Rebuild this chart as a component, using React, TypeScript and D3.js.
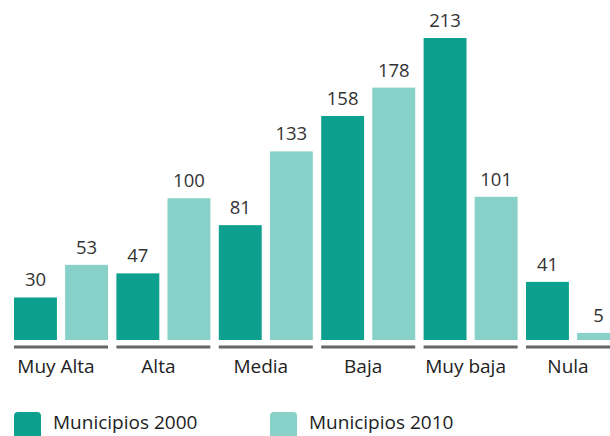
import React from "react";
import * as d3 from "d3";

const categories = ["Muy Alta", "Alta", "Media", "Baja", "Muy baja", "Nula"];
const seriesNames = ["Municipios 2000", "Municipios 2010"];
const values2000 = [30, 47, 81, 158, 213, 41];
const values2010 = [53, 100, 133, 178, 101, 5];

const colors = ["#0da08f", "#87d1c8"];
const W = 610;
const H = 436;
const FONT = "'Open Sans', sans-serif";

export default function App() {
  const x0 = d3
    .scaleBand<string>()
    .domain(categories)
    .range([14, 620])
    .paddingInner(0.082)
    .paddingOuter(0);
  const x1 = d3
    .scaleBand<string>()
    .domain(["0", "1"])
    .range([0, x0.bandwidth()])
    .paddingInner(0.16)
    .paddingOuter(0);
  const y = d3.scaleLinear().domain([0, 213]).range([340, 38]);
  const series = [values2000, values2010];

  return (
    <svg
      width={W}
      height={H}
      style={{ position: "fixed", left: 0, top: 0, background: "#fff" }}
      fontFamily={FONT}
    >
      {categories.map((c, i) => {
        const gx = x0(c)!;
        return (
          <g key={c}>
            {series.map((vals, s) => {
              const bx = gx + x1(String(s))!;
              const v = vals[i];
              return (
                <g key={s}>
                  <rect
                    x={bx}
                    y={y(v)}
                    width={x1.bandwidth()}
                    height={y(0) - y(v)}
                    fill={colors[s]}
                  />
                  <text
                    x={bx + x1.bandwidth() / 2}
                    y={y(v) - 11}
                    textAnchor="middle"
                    fontSize={18.5}
                    fill="#333"
                  >
                    {v}
                  </text>
                </g>
              );
            })}
            <rect x={gx} y={345.5} width={x0.bandwidth()} height={3} fill="#666" />
            <text
              x={gx + x0.bandwidth() / 2 - 5}
              y={373}
              textAnchor="middle"
              fontSize={19}
              fill="#222"
            >
              {c}
            </text>
          </g>
        );
      })}
      {seriesNames.map((n, s) => {
        const lx = s === 0 ? 14 : 270;
        return (
          <g key={n}>
            <rect x={lx} y={412} width={27} height={30} rx={4} fill={colors[s]} />
            <text x={lx + 39} y={429} fontSize={19} fill="#222">
              {n}
            </text>
          </g>
        );
      })}
    </svg>
  );
}
